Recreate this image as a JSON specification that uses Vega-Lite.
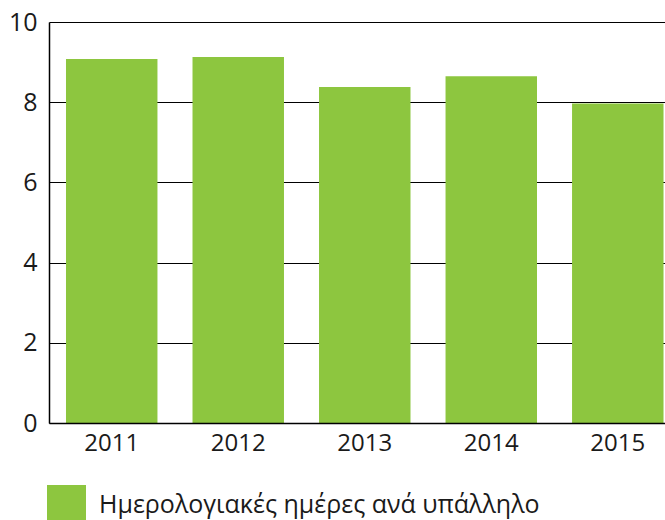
{
  "$schema": "https://vega.github.io/schema/vega-lite/v6.json",
  "width": 616,
  "height": 401,
  "autosize": {"type": "none"},
  "padding": {"left": 49, "top": 22, "right": 0, "bottom": 97},
  "background": "white",
  "data": {"values": [
    {"year": "2011", "value": 9.08, "series": "Ημερολογιακές ημέρες ανά υπάλληλο"},
    {"year": "2012", "value": 9.13, "series": "Ημερολογιακές ημέρες ανά υπάλληλο"},
    {"year": "2013", "value": 8.38, "series": "Ημερολογιακές ημέρες ανά υπάλληλο"},
    {"year": "2014", "value": 8.65, "series": "Ημερολογιακές ημέρες ανά υπάλληλο"},
    {"year": "2015", "value": 7.97, "series": "Ημερολογιακές ημέρες ανά υπάλληλο"}
  ]},
  "mark": {"type": "bar"},
  "encoding": {
    "x": {
      "field": "year", "type": "ordinal", "title": null,
      "scale": {"paddingInner": 0.277, "paddingOuter": 0.073, "align": 0.92},
      "axis": {"labelAngle": 0, "labelFontSize": 24, "labelFont": "Open Sans", "labelColor": "#1a1a1a", "ticks": false, "labelPadding": 8, "domainColor": "black", "domainWidth": 1.5, "zindex": 1}
    },
    "y": {
      "field": "value", "type": "quantitative", "title": null,
      "scale": {"domain": [0, 10], "nice": false},
      "axis": {"values": [0, 2, 4, 6, 8, 10], "labelFontSize": 25, "labelFont": "Open Sans", "labelColor": "#1a1a1a", "ticks": false, "labelPadding": 12, "domainColor": "black", "domainWidth": 1.5, "grid": true, "gridColor": "black", "gridWidth": 1.2}
    },
    "color": {
      "field": "series", "type": "nominal", "title": null,
      "scale": {"range": ["#8DC63F"]},
      "legend": {"orient": "none", "legendX": -2, "legendY": 463, "symbolType": "square", "symbolSize": 1521, "symbolStrokeWidth": 0, "symbolOpacity": 1, "labelFontSize": 25, "labelFont": "Open Sans", "labelColor": "#1a1a1a", "labelOffset": 13, "labelLimit": 0}
    }
  },
  "config": {"view": {"stroke": null}}
}
